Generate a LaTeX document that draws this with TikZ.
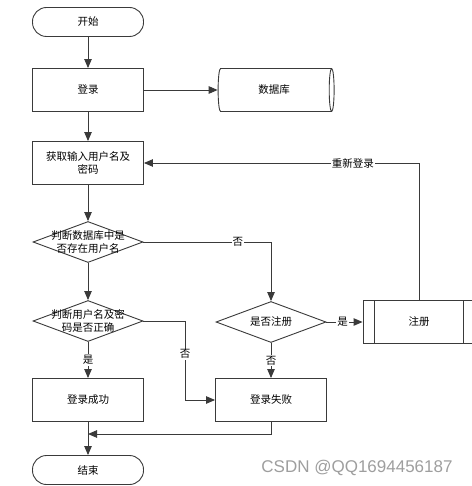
\documentclass[tikz,border=0pt]{standalone}
\usepackage{fontspec}
\setmainfont{Noto Sans CJK SC}
\newfontfamily\wmfont{Liberation Sans}
\usetikzlibrary{calc,shapes.geometric,arrows.meta}
\definecolor{linecolorc}{HTML}{3A3A3A}
\colorlet{linecolor}{linecolorc}
\colorlet{wmcolor}{black!38}
\tikzstyle{procbox} =[
    draw=linecolor,
    fill=white,
    rectangle,
    line width=0.9pt,
    minimum width=111pt,
    minimum height=43pt,
    inner sep=2pt,
    align=center,
    font=\fontsize{10.5}{13}\selectfont
    ]
\tikzstyle{termbox} =[
    procbox,
    rounded corners=14pt,
    minimum height=29pt
    ]
\tikzstyle{decision} =[
    draw=linecolor,
    fill=white,
    diamond,
    line width=0.9pt,
    minimum width=110pt,
    minimum height=41pt,
    inner sep=0pt
    ]
\tikzstyle{dtext} =[
    align=center,
    inner sep=0pt,
    font=\fontsize{10.5}{13.5}\selectfont
    ]
\tikzstyle{dbase} =[
    draw=linecolor,
    fill=white,
    cylinder,
    aspect=0.3,
    line width=0.9pt,
    minimum width=43pt,
    minimum height=116pt,
    font=\fontsize{10.5}{13}\selectfont
    ]
\tikzstyle{elabel} =[
    fill=white,
    inner sep=1pt,
    font=\fontsize{10.5}{13}\selectfont
    ]
\tikzstyle{flow} =[
    draw=linecolor,
    line width=0.9pt,
    -{Triangle[length=9pt,width=7.5pt]}
    ]

\begin{document}
\begin{tikzpicture}[x=1pt,y=-1pt]
\useasboundingbox (0,0) rectangle (471,486);

% nodes
\node[termbox] (kaishi) at (88,22) {开始};
\node[procbox] (denglu) at (88,90) {登录};
\node[dbase] (shujuku) at (274,90) {数据库};
\node[procbox] (huoqu) at (88,163) {获取输入用户名及\\密码};
\node[decision, label={[dtext]center:判断数据库中是\\否存在用户名}] (panduan1) at (88,242) {};
\node[decision, label={[dtext]center:判断用户名及密\\码是否正确}] (panduan2) at (88,321) {};
\node[decision, label={[dtext]center:是否注册}] (shifou) at (271,322) {};
\node[procbox, minimum width=112pt] (zhuce) at (419,322) {注册};
\draw[linecolor, line width=0.9pt]
    ($(zhuce.north west)+(12,0)$) -- ($(zhuce.south west)+(12,0)$)
    ($(zhuce.north east)+(-12,0)$) -- ($(zhuce.south east)+(-12,0)$);
\node[procbox] (chenggong) at (88,400) {登录成功};
\node[procbox] (shibai) at (271,400) {登录失败};
\node[termbox] (jieshu) at (88,470) {结束};
\coordinate (huihe) at (88,434);

% connectors
\draw[flow] (kaishi) -- (denglu);
\draw[flow] (denglu) -- (shujuku);
\draw[flow] (denglu) -- (huoqu);
\draw[flow] (huoqu) -- (panduan1);
\draw[flow] (panduan1) -- (panduan2);
\draw[flow] (panduan1.east) -| node[elabel, pos=0.37] {否} (shifou.north);
\draw[flow] (panduan2.east) -| node[elabel, pos=0.71] {否} (185,400) -- (shibai.west);
\draw[flow] (panduan2) -- node[elabel] {是} (chenggong);
\draw[flow] (shifou) -- node[elabel, pos=0.45] {是} (zhuce);
\draw[flow] (shifou) -- node[elabel] {否} (shibai);
\draw[flow] (zhuce.north) |- node[elabel, pos=0.62] {重新登录} (huoqu.east);
\draw[flow] (shibai.south) |- (huihe);
\draw[flow] (chenggong) -- (jieshu);

\node[text=wmcolor, font=\wmfont\fontsize{17}{20}\selectfont, inner sep=0pt] (shuiyin) at (357,468) {CSDN @QQ1694456187};
\end{tikzpicture}
\end{document}
